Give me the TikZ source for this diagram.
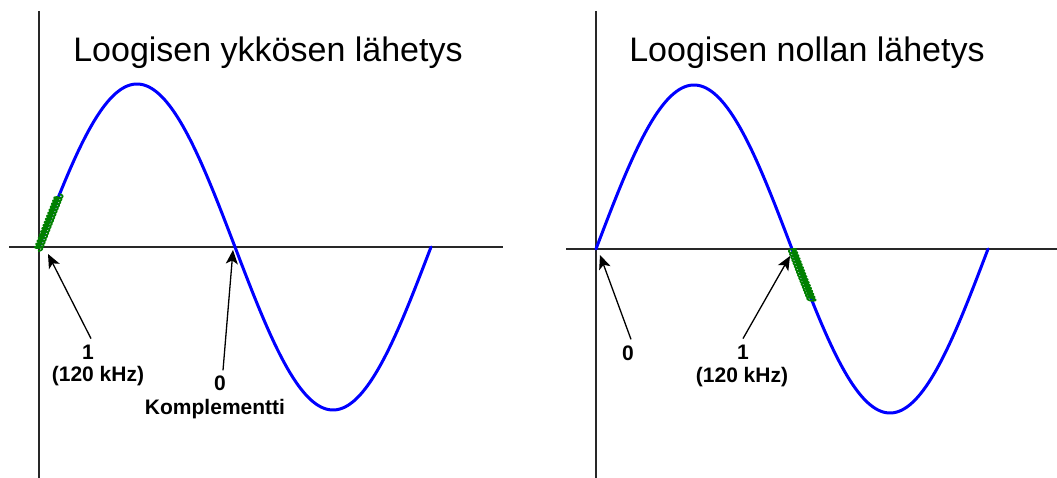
\documentclass[tikz,border=0pt]{standalone}
\usepackage{fontspec}
\setmainfont{Liberation Sans}
\usetikzlibrary{arrows.meta}
\definecolor{sqgreen}{RGB}{0,128,0}
\tikzset{
  axis/.style={line width=1.4pt, draw={rgb,255:red,40;green,40;blue,40}},
  wave/.style={line width=3pt, draw={rgb,255:red,0;green,0;blue,255}, line cap=round, line join=round},
  squig/.style={line width=1.7pt, draw=sqgreen, line join=round},
  ptr/.style={line width=1.3pt, -{Stealth[length=14pt,width=12pt,inset=3.5pt]}},
  title/.style={font=\fontsize{34}{40}\selectfont, anchor=base},
  lbl/.style={font=\fontsize{21}{25}\selectfont\bfseries, inner sep=0pt},
}
\begin{document}
\begin{tikzpicture}[x=1pt,y=-1pt]
\useasboundingbox (0,0) rectangle (1057,478);
% ---------- left panel ----------
\coordinate (lvt) at (39,11);
\coordinate (lvb) at (39,478);
\coordinate (lhl) at (9,247);
\coordinate (lhr) at (503,247);
\draw[axis] (lvt) -- (lvb);
\draw[axis] (lhl) -- (lhr);
\draw[wave] plot[domain=39:431, samples=200, smooth] (\x, {247-163*sin((\x-39)/392*360)});
\draw[squig] plot[domain=0:1, samples=300, smooth] ({38+21*\x+4*sin(\x*6300)}, {247-163*sin((21*\x-1)/392*360)+1.5*cos(\x*6300)});
\node[title] (t1) at (268,62) {Loogisen ykkösen lähetys};
\coordinate (ltip1) at (48,254);
\coordinate (ltip0) at (233,250);
\node[lbl] (l1) at (88,352) {1};
\node[lbl] (l1b) at (98,376) {(120 kHz)};
\node[lbl] (l0) at (220,383) {0};
\node[lbl] (l0b) at (215,409) {Komplementti};
\draw[ptr] (l1.north) ++(3,-6) coordinate (l1s) (l1s) -- (ltip1);
\draw[ptr] (l0.north) ++(3,-5) coordinate (l0s) (l0s) -- (ltip0);
% ---------- right panel ----------
\coordinate (rvt) at (596,11);
\coordinate (rvb) at (596,478);
\coordinate (rhl) at (566,249);
\coordinate (rhr) at (1057,249);
\draw[axis] (rvt) -- (rvb);
\draw[axis] (rhl) -- (rhr);
\draw[wave] plot[domain=596:988, samples=200, smooth] (\x, {249-164*sin((\x-596)/392*360)});
\draw[squig] plot[domain=0:1, samples=300, smooth] ({792+20*\x+4*sin(\x*6300)}, {249-164*sin((196+20*\x)/392*360)+1.5*cos(\x*6300)});
\node[title] (t2) at (807,62) {Loogisen nollan lähetys};
\coordinate (rtip0) at (600,255);
\coordinate (rtip1) at (790,256);
\node[lbl] (r0) at (628,353) {0};
\node[lbl] (r1) at (743,352) {1};
\node[lbl] (r1b) at (742,377) {(120 kHz)};
\draw[ptr] (r0.north) ++(3,-6) coordinate (r0s) (r0s) -- (rtip0);
\draw[ptr] (r1.north) ++(0,-6) coordinate (r1s) (r1s) -- (rtip1);
\end{tikzpicture}
\end{document}
